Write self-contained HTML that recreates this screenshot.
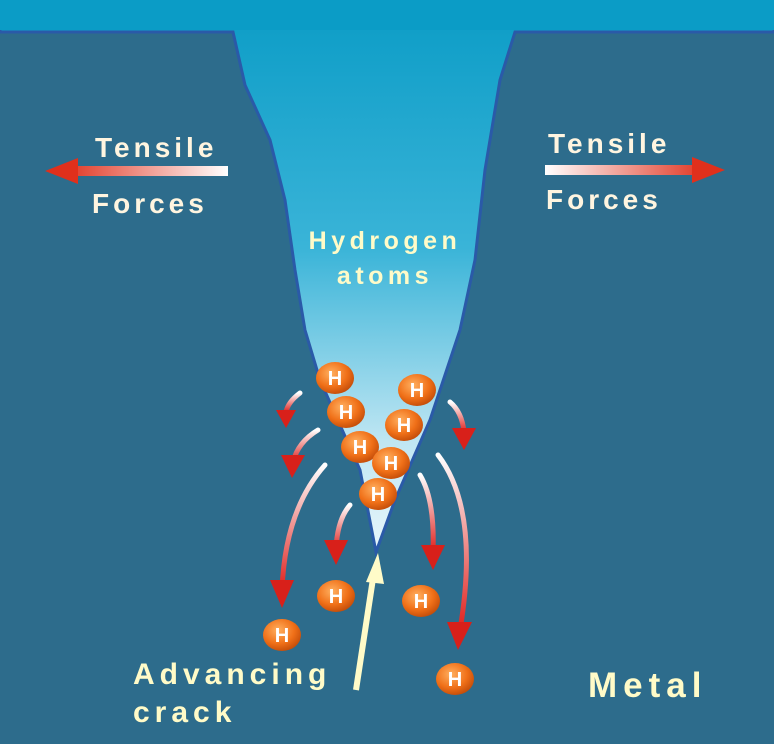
<!DOCTYPE html>
<html><head><style>html,body{margin:0;padding:0;background:#2d6c8c}svg{display:block}text{font-family:"Liberation Sans",sans-serif;font-weight:bold}</style></head>
<body>
<svg width="774" height="744" viewBox="0 0 774 744" xmlns="http://www.w3.org/2000/svg">
<defs>
<linearGradient id="sky" x1="0" y1="0" x2="0" y2="1">
<stop offset="0" stop-color="#0b9cc6"/><stop offset="0.45" stop-color="#3ab4d8"/><stop offset="0.8" stop-color="#bfe6f3"/><stop offset="1" stop-color="#e8f6fb"/></linearGradient>
<linearGradient id="ar" gradientUnits="objectBoundingBox" x1="0" y1="0" x2="0" y2="1"><stop offset="0" stop-color="#fff"/><stop offset="1" stop-color="#e0201c"/></linearGradient>
<linearGradient id="tl" gradientUnits="userSpaceOnUse" x1="228" y1="0" x2="60" y2="0"><stop offset="0" stop-color="#fff"/><stop offset="1" stop-color="#e0301c"/></linearGradient>
<linearGradient id="tr" gradientUnits="userSpaceOnUse" x1="545" y1="0" x2="710" y2="0"><stop offset="0" stop-color="#fff"/><stop offset="1" stop-color="#e0301c"/></linearGradient>
<radialGradient id="hb" cx="0.4" cy="0.35" r="0.7"><stop offset="0" stop-color="#ffb060"/><stop offset="0.6" stop-color="#f07018"/><stop offset="1" stop-color="#c04a08"/></radialGradient>
</defs>
<rect width="774" height="744" fill="#2d6c8c"/>
<path d="M0,32 L233,32 L245,85 L270,140 L285,200 L295,270 L305,330 L320,380 L360,470 L376,552 L395,500 L430,420 L460,330 L475,260 L485,170 L500,80 L515,32 L774,32 L774,0 L0,0 Z" fill="url(#sky)" stroke="#2a5aa8" stroke-width="3"/>
<rect width="774" height="30" fill="#0b9cc6"/>
<g fill="none" stroke-width="5" stroke-linecap="round">
<path d="M300,393 Q288,402 286,412" stroke="url(#ar)"/>
<path d="M318,430 Q298,442 293,462" stroke="url(#ar)"/>
<path d="M325,465 Q285,510 282,590" stroke="url(#ar)"/>
<path d="M350,505 Q337,520 336,550" stroke="url(#ar)"/>
<path d="M450,402 Q462,412 464,432" stroke="url(#ar)"/>
<path d="M420,475 Q435,500 433,552" stroke="url(#ar)"/>
<path d="M438,455 Q480,510 460,630" stroke="url(#ar)"/>
</g>
<g fill="#d8201a">
<path d="M276,410 L296,410 L286,428Z"/>
<path d="M281,455 L305,455 L292,478Z"/>
<path d="M270,580 L294,580 L282,608Z"/>
<path d="M324,540 L348,540 L336,565Z"/>
<path d="M452,428 L476,428 L464,450Z"/>
<path d="M421,545 L445,545 L433,570Z"/>
<path d="M447,622 L472,622 L458,650Z"/>
</g>
<path d="M356,690 L374,572" stroke="#fffbc8" stroke-width="6" fill="none"/>
<path d="M378,553 L366,582 L384,584Z" fill="#fffbc8"/>
<rect x="66" y="166" width="162" height="10" fill="url(#tl)"/>
<path d="M45,171 L78,158 L78,184Z" fill="#e0301c"/>
<rect x="545" y="165" width="155" height="10" fill="url(#tr)"/>
<path d="M725,170 L692,157 L692,183Z" fill="#e0301c"/>
<g fill="#fff5e0" font-size="28" letter-spacing="4">
<text x="95" y="157">Tensile</text>
<text x="92" y="213">Forces</text>
<text x="548" y="153">Tensile</text>
<text x="546" y="209">Forces</text>
</g>
<g fill="#fffbc8" font-size="25" letter-spacing="4.5" text-anchor="middle">
<text x="385" y="249">Hydrogen</text>
<text x="385" y="284">atoms</text>
</g>
<g fill="#fffbc8" font-size="30" letter-spacing="5">
<text x="133" y="684">Advancing</text>
<text x="133" y="722">crack</text>
<text x="588" y="697" font-size="35" letter-spacing="6">Metal</text>
</g>
<g fill="url(#hb)">
<ellipse cx="335" cy="378" rx="19" ry="16"/><ellipse cx="346" cy="412" rx="19" ry="16"/><ellipse cx="360" cy="447" rx="19" ry="16"/><ellipse cx="391" cy="463" rx="19" ry="16"/><ellipse cx="378" cy="494" rx="19" ry="16"/><ellipse cx="417" cy="390" rx="19" ry="16"/><ellipse cx="404" cy="425" rx="19" ry="16"/><ellipse cx="336" cy="596" rx="19" ry="16"/><ellipse cx="421" cy="601" rx="19" ry="16"/><ellipse cx="282" cy="635" rx="19" ry="16"/><ellipse cx="455" cy="679" rx="19" ry="16"/>
</g>
<g fill="#fff" font-size="20" text-anchor="middle">
<text x="335" y="385">H</text><text x="346" y="419">H</text><text x="360" y="454">H</text><text x="391" y="470">H</text><text x="378" y="501">H</text><text x="417" y="397">H</text><text x="404" y="432">H</text><text x="336" y="603">H</text><text x="421" y="608">H</text><text x="282" y="642">H</text><text x="455" y="686">H</text>
</g>
</svg>
</body></html>
